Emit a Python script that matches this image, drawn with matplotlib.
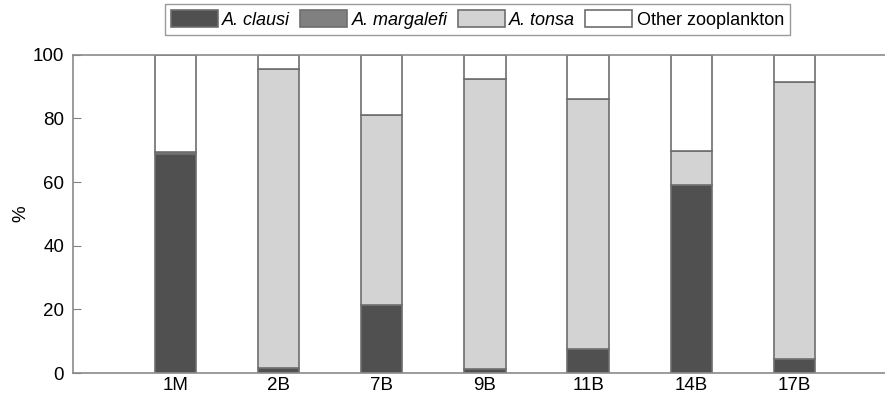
import numpy as np
import matplotlib
matplotlib.use("Agg")
import matplotlib.pyplot as plt

plt.rcParams['font.family'] = ['Liberation Sans', 'DejaVu Sans']

# 站点与各类群所占百分比
stations = ["1M", "2B", "7B", "9B", "11B", "14B", "17B"]
clausi = [68.9, 1.5, 21.3, 1.3, 7.6, 59.2, 4.3]
margalefi = [0.5, 0.0, 0.0, 0.0, 0.0, 0.0, 0.0]
tonsa = [0.0, 93.9, 59.6, 91.1, 78.5, 10.5, 87.0]
other = [100 - a - b - c for a, b, c in zip(clausi, margalefi, tonsa)]

series = [("A. clausi", clausi, "#505050", True),
          ("A. margalefi", margalefi, "#808080", True),
          ("A. tonsa", tonsa, "#d3d3d3", True),
          ("Other zooplankton", other, "#ffffff", False)]

fig = plt.figure(figsize=(8.85, 3.96), dpi=100)
ax = fig.add_axes([0.082, 0.058, 0.918, 0.804])

x = np.arange(1, len(stations) + 1)
bottom = np.zeros(len(stations))
handles = []
for name, vals, color, italic in series:
    bars = ax.bar(x, vals, 0.4, bottom=bottom, color=color,
                  edgecolor="#6e6e6e", linewidth=1.2, label=name)
    handles.append(bars)
    bottom += np.array(vals)

ax.set_xlim(0, 7.88)
ax.set_ylim(0, 100)
ax.set_xticks(x)
ax.set_xticklabels(stations)
ax.set_yticks([0, 20, 40, 60, 80, 100])
ax.tick_params(axis="y", direction="in", length=6, color="#808080",
               labelsize=13.5, pad=6)
ax.tick_params(axis="x", length=0, labelsize=13.5, pad=3)
fig.text(0.024, 0.46, "%", rotation=90, fontsize=13.5,
         ha="center", va="center")

for side in ["left", "top", "bottom"]:
    ax.spines[side].set_color("#8a8a8a")
    ax.spines[side].set_linewidth(1.2)
ax.spines["right"].set_visible(False)

leg = fig.legend(handles=handles, loc="upper left",
                 bbox_to_anchor=(0.186, 0.99), ncol=4, frameon=True,
                 fancybox=False, edgecolor="#808080", fontsize=13,
                 handlelength=2.6, handleheight=1.05, handletextpad=0.25,
                 columnspacing=0.55, borderpad=0.35, borderaxespad=0)
leg.get_frame().set_linewidth(1.0)
for txt, (_, _, _, italic) in zip(leg.get_texts(), series):
    if italic:
        txt.set_fontstyle("italic")

fig.savefig("out.png", dpi=100)
